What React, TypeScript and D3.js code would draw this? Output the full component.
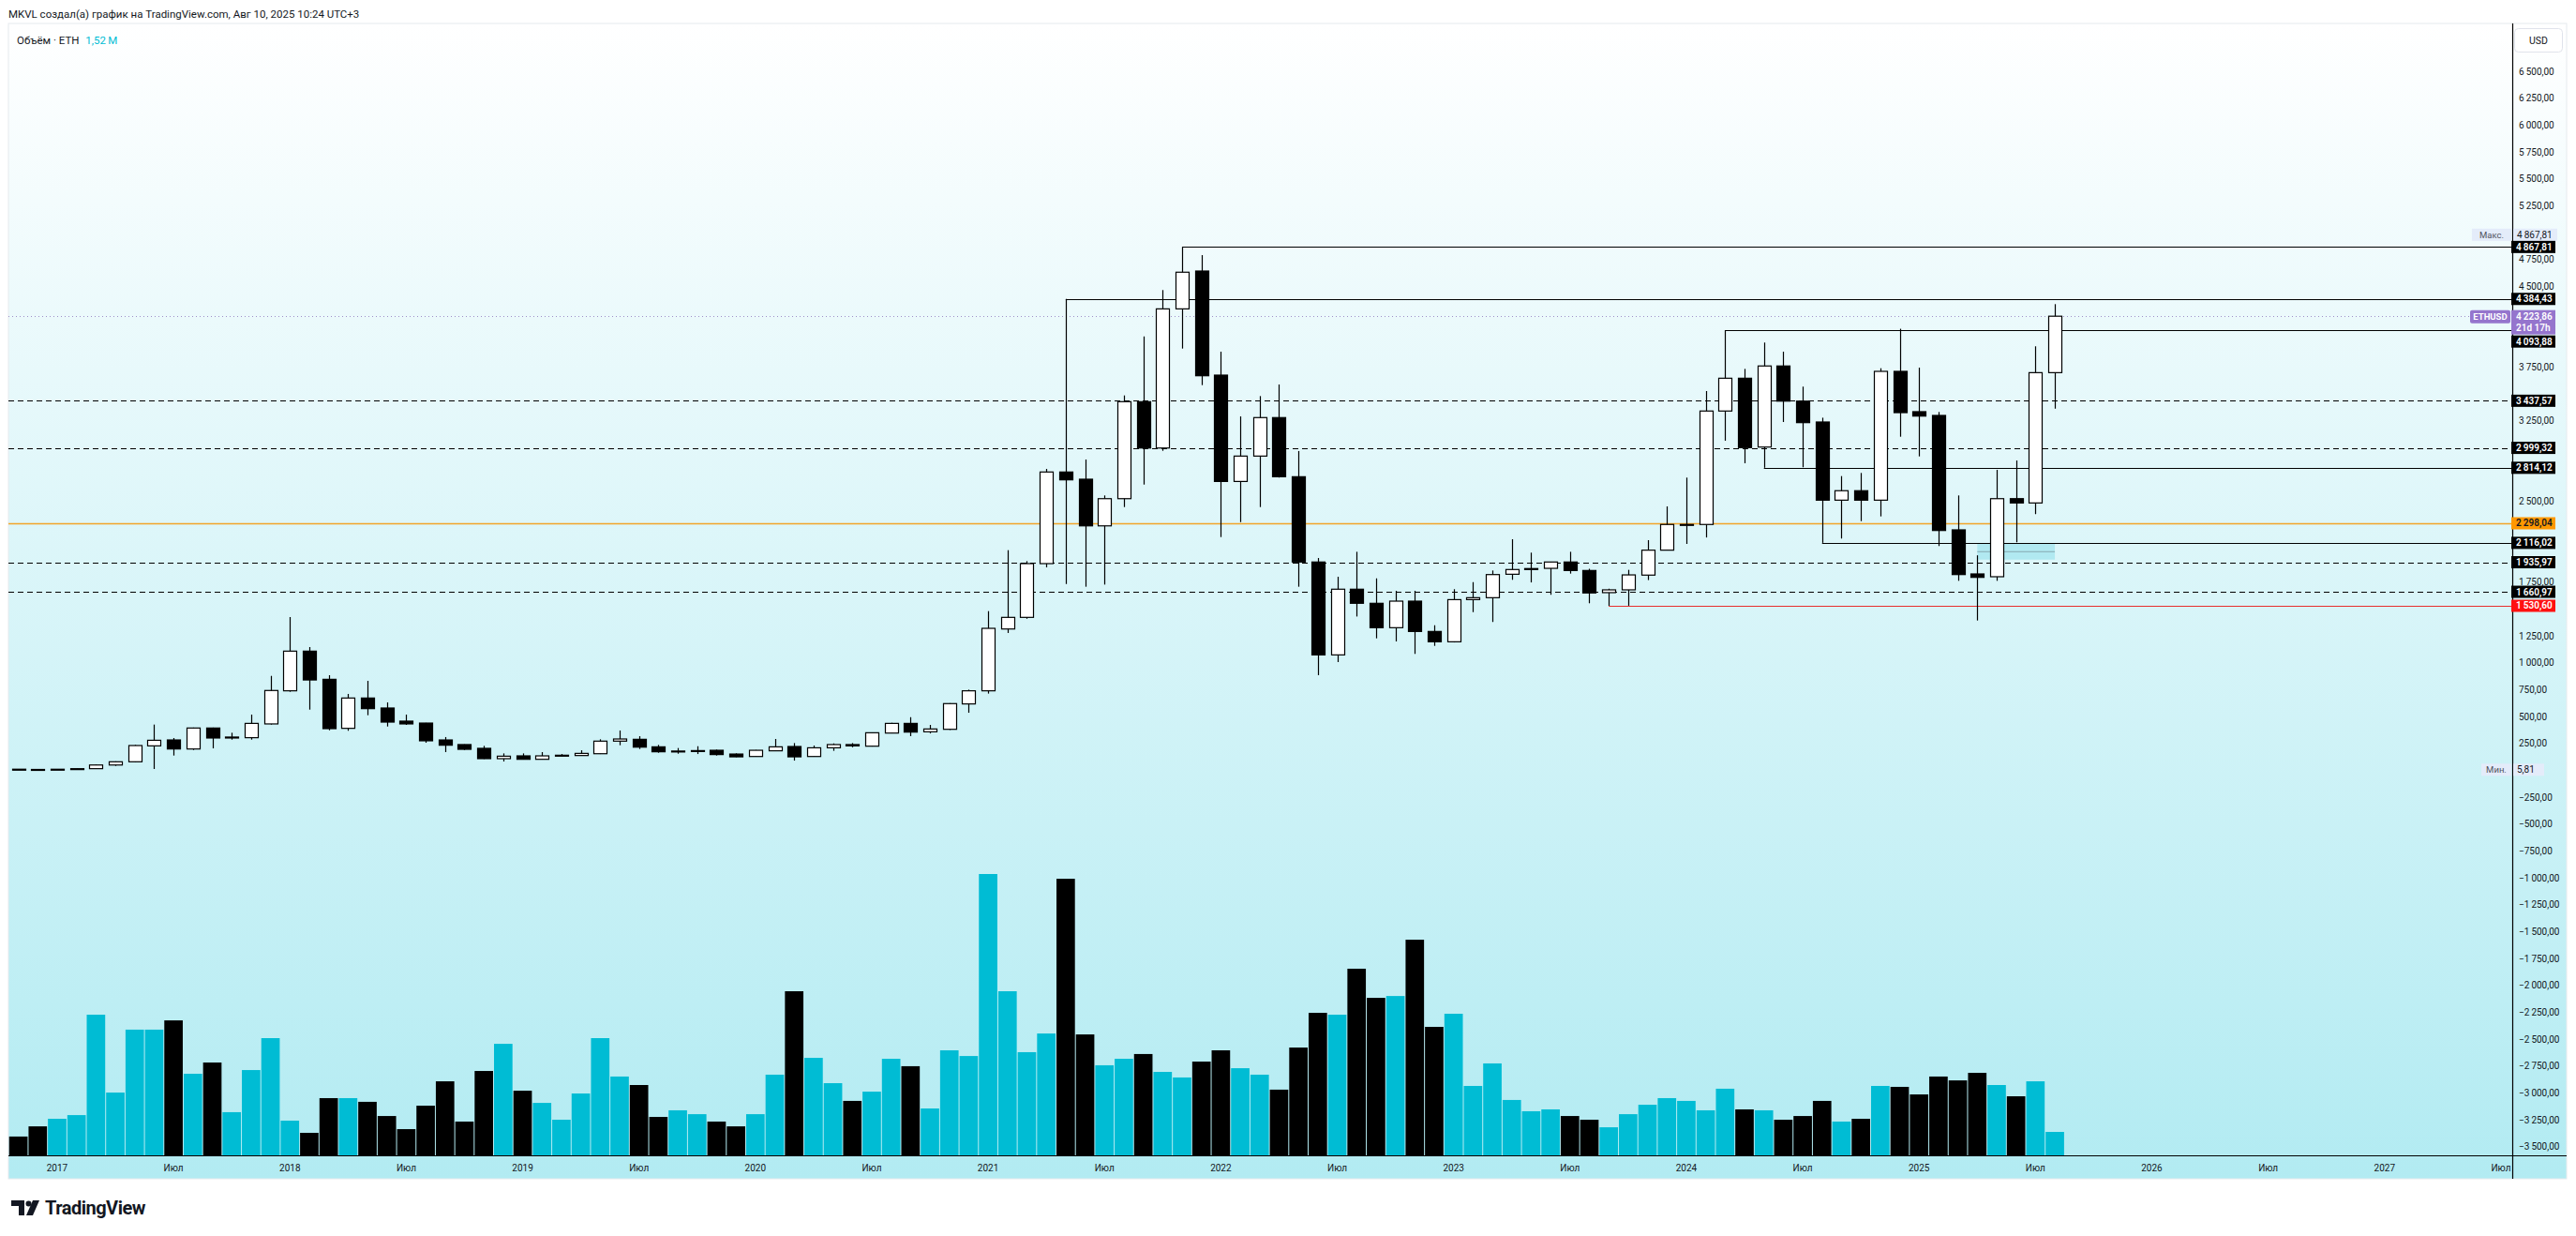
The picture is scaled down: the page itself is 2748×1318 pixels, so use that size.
import React, { useEffect } from "react";
import * as d3 from "d3";

const W = 2748;
const H = 1318;

// Monthly ETHUSD candles, first candle = Nov 2016, last = Aug 2025
const FIRST_MONTH = "2016-11";
const OPEN = [
  11.0, 8.7, 8.0, 10.7, 16.0, 50, 80, 228, 283, 199,
  394, 301, 304, 432, 740, 1109, 847, 391, 673, 580,
  458, 440, 283, 240, 205, 109, 135, 103, 137, 138,
  155, 272, 289, 219, 172, 180, 187, 152, 129, 182,
  222, 129, 210, 240, 225, 347, 437, 359, 382, 618,
  740, 1315, 1423, 1923, 2775, 2708, 2274, 2527, 3429, 2998,
  4292, 4644, 3676, 2687, 2923, 3281, 2731, 1938, 1074, 1685,
  1554, 1327, 1574, 1292, 1196, 1588, 1606, 1824, 1868, 1879,
  1938, 1859, 1653, 1679, 1816, 2048, 2283, 2287, 3342, 3647,
  3007, 3761, 3434, 3240, 2513, 2601, 2513, 3711, 3336, 3301,
  2237, 1827, 1801, 2527, 2487, 3699,
];
const HIGH = [
  11.3, 8.9, 11.2, 17.3, 54, 84, 237, 426, 301, 398,
  398, 350, 519, 879, 1426, 1147, 885, 711, 833, 632,
  519, 442, 310, 242, 228, 158, 158, 170, 152, 187,
  289, 371, 318, 237, 208, 225, 193, 158, 190, 292,
  254, 231, 251, 254, 352, 443, 495, 423, 625, 751,
  1481, 2048, 1946, 2804, 4384.43, 2891, 2557, 3487, 4036, 4467,
  4867.81, 4792, 3894, 3292, 3481, 3589, 2970, 1975, 1801, 2033,
  1786, 1670, 1670, 1350, 1685, 1751, 1859, 2150, 2025, 1940,
  2033, 1875, 1690, 1865, 2141, 2455, 2723, 3528, 4093.88, 3734,
  3979, 3894, 3569, 3280, 2737, 2766, 3740, 4107, 3746, 3333,
  2557, 2000, 2795, 2882, 3944, 4336,
];
const LOW = [
  8.6, 5.81, 7.9, 10.4, 15.8, 42, 76, 13, 138, 190,
  205, 286, 286, 426, 731, 565, 373, 368, 513, 408,
  423, 257, 170, 190, 106, 83, 100, 101, 132, 136,
  152, 234, 199, 164, 155, 152, 138, 123, 127, 180,
  91, 128, 182, 215, 222, 345, 318, 344, 376, 536,
  714, 1278, 1410, 1888, 1734, 1708, 1728, 2449, 2658, 2972,
  3923, 3583, 2170, 2309, 2449, 2723, 1708, 885, 1007, 1431,
  1228, 1199, 1083, 1158, 1190, 1472, 1380, 1772, 1748, 1633,
  1830, 1554, 1530.6, 1531, 1770, 2050, 2106, 2166, 3066, 2856,
  2814.12, 3240, 2819, 2116.02, 2156, 2318, 2362, 3103, 2920, 2086,
  1763, 1394, 1763, 2121, 2383, 3364,
];
const CLOSE = [
  8.7, 8.0, 10.7, 16.0, 50, 80, 231, 280, 199, 394,
  301, 310, 437, 743, 1109, 841, 388, 673, 574, 449,
  432, 275, 234, 196, 109, 132, 103, 135, 141, 158,
  272, 292, 216, 173, 180, 184, 147, 126, 187, 219,
  126, 210, 240, 228, 350, 437, 356, 385, 621, 740,
  1321, 1423, 1923, 2775, 2702, 2274, 2527, 3429, 2998, 4292,
  4633, 3670, 2687, 2923, 3281, 2731, 1938, 1074, 1685, 1554,
  1327, 1574, 1292, 1196, 1588, 1606, 1821, 1868, 1877, 1938,
  1859, 1650, 1679, 1818, 2048, 2287, 2287, 3342, 3647, 3002,
  3761, 3434, 3234, 2513, 2601, 2513, 3711, 3327, 3295, 2231,
  1821, 1795, 2527, 2487, 3699, 4223.86,
];
// monthly volume, millions of ETH
const VOLUME = [
  1.22, 1.88, 2.37, 2.61, 9.12, 4.07, 8.15, 8.15, 8.75, 5.29,
  6.02, 2.8, 5.53, 7.6, 2.25, 1.46, 3.71, 3.71, 3.47, 2.55,
  1.7, 3.22, 4.8, 2.19, 5.47, 7.23, 4.19, 3.4, 2.31, 4.01,
  7.6, 5.11, 4.56, 2.49, 2.92, 2.67, 2.19, 1.88, 2.67, 5.23,
  10.64, 6.32, 4.68, 3.53, 4.13, 6.26, 5.78, 3.04, 6.81, 6.44,
  18.24, 10.64, 6.69, 7.9, 17.93, 7.84, 5.84, 6.26, 6.57, 5.41,
  5.05, 6.08, 6.81, 5.65, 5.23, 4.26, 6.99, 9.24, 9.12, 12.1,
  10.21, 10.33, 13.98, 8.33, 9.18, 4.5, 5.96, 3.59, 2.86, 2.98,
  2.55, 2.31, 1.82, 2.67, 3.28, 3.71, 3.53, 2.92, 4.32, 2.98,
  2.92, 2.31, 2.55, 3.53, 2.19, 2.37, 4.5, 4.44, 3.95, 5.11,
  4.86, 5.35, 4.56, 3.83, 4.8, 1.52,
];

const PRICE_TICKS = d3.range(6500, -3501, -250);
const YEAR_LABELS = ["2017", "2018", "2019", "2020", "2021", "2022", "2023", "2024", "2025", "2026", "2027"];
const MID_LABEL = "Июл";

// horizontal levels: start = candle index where a ray starts (null = full width)
const LEVELS = [
  { price: 4867.81, start: 60, kind: "solid" },
  { price: 4384.43, start: 54, kind: "solid" },
  { price: 4093.88, start: 88, kind: "solid" },
  { price: 3437.57, start: null, kind: "dash" },
  { price: 2999.32, start: null, kind: "dash" },
  { price: 2814.12, start: 90, kind: "solid" },
  { price: 2298.04, start: null, kind: "orange" },
  { price: 2116.02, start: 93, kind: "solid" },
  { price: 1935.97, start: null, kind: "dash" },
  { price: 1660.97, start: null, kind: "dash" },
  { price: 1530.6, start: 82, kind: "red" },
];
const LAST_PRICE = 4223.86;
const COUNTDOWN = "21d 17h";
const ZONE = { from: 101, to: 105, top: 2107, bottom: 1960, mid: 2034 };

const UP_VOL = "#00bcd4";
const FONT = "Roboto, 'Liberation Sans', Arial, sans-serif";

function fmtPrice(p: number) {
  const neg = p < 0;
  const s = Math.abs(p).toFixed(2);
  const [int, dec] = s.split(".");
  const withSep = int.replace(/\B(?=(\d{3})+(?!\d))/g, "\u2009");
  return (neg ? "\u2212" : "") + withSep + "," + dec;
}

export default function App() {
  useEffect(() => {
    document.body.style.margin = "0";
    document.body.style.overflow = "hidden";
  }, []);

  const pane = { left: 9, right: 2738, top: 25, bottom: 1257 };
  const axisX = 2680;
  const timeY = 1232;
  const step = 20.69;
  const n = OPEN.length;
  const x = d3.scaleLinear().domain([0, n - 1]).range([19.6, 19.6 + (n - 1) * step]);
  const y = d3.scaleLinear().domain([-3500, 6500]).range([1222.8, 76.2]);
  const vMax = d3.max(VOLUME) as number;
  const yv = d3.scaleLinear().domain([0, vMax]).range([timeY, timeY - 300]);

  const bodyW = 14;
  const candles = OPEN.map((o, i) => ({ i, o, h: HIGH[i], l: LOW[i], c: CLOSE[i], v: VOLUME[i], up: CLOSE[i] >= o }));

  const timeLabels: { i: number; t: string }[] = [];
  YEAR_LABELS.forEach((yr, k) => {
    timeLabels.push({ i: 2 + 12 * k, t: yr });
    timeLabels.push({ i: 8 + 12 * k, t: MID_LABEL });
  });

  // axis labels with simple collision avoidance
  const boxH = 13;
  type Lab = { price: number; bg: string; fg: string; h: number; lines: string[]; top: number };
  const labs: Lab[] = [];
  LEVELS.forEach((L) => {
    const bg = L.kind === "orange" ? "#ff9800" : L.kind === "red" ? "#ff1111" : "#000000";
    const fg = L.kind === "orange" ? "#131722" : "#ffffff";
    labs.push({ price: L.price, bg, fg, h: boxH, lines: [fmtPrice(L.price)], top: y(L.price) - boxH / 2 });
  });
  labs.push({ price: LAST_PRICE, bg: "#9575cd", fg: "#ffffff", h: 26, lines: [fmtPrice(LAST_PRICE), COUNTDOWN], top: y(LAST_PRICE) - boxH / 2 });
  labs.sort((a, b) => a.top - b.top);
  for (let k = 1; k < labs.length; k++) {
    const prev = labs[k - 1];
    if (labs[k].top < prev.top + prev.h + 1) labs[k].top = prev.top + prev.h + 1;
  }

  const maxP = d3.max(HIGH) as number;
  const minP = d3.min(LOW) as number;
  const lastVol = VOLUME[n - 1];

  // boxes on the price axis that hide tick labels underneath
  const covers: [number, number][] = labs.map((L) => [L.top, L.top + L.h] as [number, number]);
  covers.push([y(maxP) - 13 - boxH / 2, y(maxP) - 13 + boxH / 2]);
  covers.push([y(minP) - boxH / 2, y(minP) + boxH / 2]);
  const visibleTicks = PRICE_TICKS.filter((p) => {
    const yy = y(p);
    return !covers.some(([a, b]) => yy >= a - 1 && yy <= b + 1);
  });

  return (
    <svg width={W} height={H} style={{ position: "absolute", left: 0, top: 0, fontFamily: FONT }}>
      <defs>
        <linearGradient id="bg" x1="0" y1="0" x2="0" y2="1">
          <stop offset="0" stopColor="#ffffff" />
          <stop offset="1" stopColor="#b2ebf2" />
        </linearGradient>
        <clipPath id="plot">
          <rect x={pane.left} y={pane.top} width={axisX - pane.left} height={timeY - pane.top} />
        </clipPath>
      </defs>
      <rect x={0} y={0} width={W} height={H} fill="#ffffff" />
      <text x={9} y={15} fontSize={11.5} fill="#131722" dominantBaseline="central">
        MKVL создал(а) график на TradingView.com, Авг 10, 2025 10:24 UTC+3
      </text>
      <rect x={pane.left} y={pane.top} width={pane.right - pane.left} height={pane.bottom - pane.top} fill="url(#bg)" stroke="#e6eaee" />

      <g clipPath="url(#plot)">
        {/* volume */}
        {candles.map((d) => (
          <rect key={"v" + d.i} x={x(d.i) - step / 2 + 0.5} width={step - 1} y={yv(d.v)} height={timeY - yv(d.v)} fill={d.up ? UP_VOL : "#000000"} />
        ))}

        {/* zone */}
        <rect x={x(ZONE.from)} width={x(ZONE.to) - x(ZONE.from)} y={y(ZONE.top)} height={y(ZONE.bottom) - y(ZONE.top)} fill="#a6e6ef" opacity={0.8} />
        <line x1={x(ZONE.from)} x2={x(ZONE.to)} y1={y(ZONE.mid)} y2={y(ZONE.mid)} stroke="#86aab2" strokeWidth={1} />

        {/* level lines */}
        {LEVELS.map((L, k) => {
          const yy = Math.round(y(L.price)) + 0.5;
          const x1 = L.start === null ? pane.left : x(L.start);
          const stroke = L.kind === "orange" ? "#f2a52a" : L.kind === "red" ? "#e8302e" : "#000000";
          return (
            <line key={"l" + k} x1={x1} x2={axisX} y1={yy} y2={yy} stroke={stroke} strokeWidth={L.kind === "orange" ? 1.3 : 1.2} strokeDasharray={L.kind === "dash" ? "6,4" : undefined} />
          );
        })}
        <line x1={pane.left} x2={axisX} y1={Math.round(y(LAST_PRICE)) + 0.5} y2={Math.round(y(LAST_PRICE)) + 0.5} stroke="#9e8fc8" strokeWidth={1} strokeDasharray="1,3" />

        {/* candles */}
        {candles.map((d) => {
          const cx = Math.round(x(d.i)) + 0.5;
          const top = y(Math.max(d.o, d.c));
          const bh = Math.max(1, Math.abs(y(d.o) - y(d.c)));
          return (
            <g key={"c" + d.i}>
              <line x1={cx} x2={cx} y1={y(d.h)} y2={y(d.l)} stroke="#000" strokeWidth={1.2} />
              <rect x={cx - bodyW / 2} y={top} width={bodyW} height={bh} fill={d.up ? "#ffffff" : "#000000"} stroke="#000" strokeWidth={1.2} />
            </g>
          );
        })}
      </g>

      {/* legend */}
      <text x={18} y={43} fontSize={11.5} fill="#131722" dominantBaseline="central">
        Объём · ETH <tspan fill={UP_VOL} dx={4}>{lastVol.toFixed(2).replace(".", ",") + "\u2009M"}</tspan>
      </text>

      {/* axes lines */}
      <line x1={axisX + 0.5} x2={axisX + 0.5} y1={pane.top} y2={pane.bottom} stroke="#000" strokeWidth={1.2} />
      <line x1={pane.left} x2={pane.right} y1={timeY + 0.5} y2={timeY + 0.5} stroke="#000" strokeWidth={1.2} />

      {/* price ticks */}
      {visibleTicks.map((p) => (
        <text key={"t" + p} x={2687} y={y(p)} fontSize={10} fill="#131722" dominantBaseline="central">
          {fmtPrice(p)}
        </text>
      ))}

      {/* USD box */}
      <rect x={2682.5} y={30.5} width={51} height={25} rx={4} fill="#ffffff" fillOpacity={0.7} stroke="#e0e3eb" />
      <text x={2708} y={43} fontSize={10.5} fill="#131722" textAnchor="middle" dominantBaseline="central">USD</text>

      {/* max / min labels */}
      <rect x={2637} y={y(maxP) - 13 - boxH / 2} width={42} height={boxH} fill="#e4ecfa" />
      <text x={2658} y={y(maxP) - 13} fontSize={9.5} fill="#50535e" textAnchor="middle" dominantBaseline="central">Макс.</text>
      <rect x={2681} y={y(maxP) - 13 - boxH / 2} width={47} height={boxH} fill="#e4ecfa" />
      <text x={2685} y={y(maxP) - 13} fontSize={10} fill="#131722" dominantBaseline="central">{fmtPrice(maxP)}</text>

      <rect x={2647} y={y(minP) - boxH / 2} width={32} height={boxH} fill="#e4ecfa" />
      <text x={2663} y={y(minP)} fontSize={9.5} fill="#50535e" textAnchor="middle" dominantBaseline="central">Мин.</text>
      <rect x={2681} y={y(minP) - boxH / 2} width={33} height={boxH} fill="#e4ecfa" />
      <text x={2685} y={y(minP)} fontSize={10} fill="#131722" dominantBaseline="central">{fmtPrice(minP)}</text>

      {/* ETHUSD tag */}
      <rect x={2635} y={y(LAST_PRICE) - boxH / 2} width={43} height={boxH + 1} rx={2} fill="#9575cd" />
      <text x={2656.5} y={y(LAST_PRICE) + 0.5} fontSize={9.5} fontWeight={700} fill="#fff" textAnchor="middle" dominantBaseline="central">ETHUSD</text>

      {/* price labels */}
      {labs.map((L, k) => (
        <g key={"pl" + k}>
          <rect x={2679} y={L.top} width={47} height={L.h} fill={L.bg} />
          {L.lines.map((t, j) => (
            <text key={j} x={2684} y={L.top + 6.5 + j * 12.5} fontSize={10} fontWeight={600} fill={L.fg} dominantBaseline="central">
              {t}
            </text>
          ))}
        </g>
      ))}

      {/* time labels */}
      {timeLabels.map((tl, k) => (
        <text key={"tl" + k} x={x(tl.i)} y={1245} fontSize={10} fill="#131722" textAnchor="middle" dominantBaseline="central">
          {tl.t}
        </text>
      ))}

      {/* TradingView logo */}
      <g fill="#131722">
        <path d="M12 1280 H26 V1296 H20 V1286 H12 Z" />
        <circle cx={30.5} cy={1283.5} r={3} />
        <path d="M35 1280 H42 L35 1296 H28 Z" />
      </g>
      <text x={48} y={1288} fontSize={20} fontWeight={700} fill="#131722" dominantBaseline="central" letterSpacing={-0.5}>TradingView</text>
    </svg>
  );
}
